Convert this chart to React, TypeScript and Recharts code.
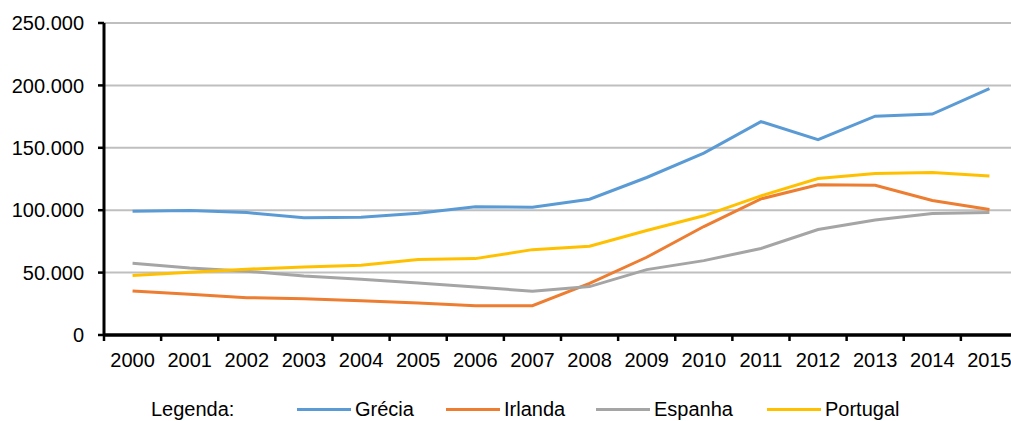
import React from "react";
import { LineChart, Line, XAxis, YAxis, CartesianGrid } from "recharts";

const anos = ["2000", "2001", "2002", "2003", "2004", "2005", "2006", "2007", "2008", "2009", "2010", "2011", "2012", "2013", "2014", "2015"];

const grecia = [99200, 99700, 98100, 93900, 94400, 97600, 102700, 102400, 108800, 126200, 145700, 171000, 156600, 175300, 177000, 197500];
const irlanda = [35300, 32600, 29900, 29100, 27500, 25700, 23500, 23500, 41400, 62300, 86900, 109100, 120300, 120000, 107800, 100500];
const espanha = [57500, 53700, 51100, 47300, 44700, 41700, 38500, 35000, 38800, 52400, 59600, 69300, 84500, 92200, 97300, 98100];
const portugal = [47600, 50300, 52700, 54500, 55900, 60400, 61200, 68400, 71100, 83700, 95500, 111500, 125400, 129400, 130200, 127500];

const yTicks = [0, 50000, 100000, 150000, 200000, 250000];

const series = [
  { key: "grecia", nome: "Grécia", cor: "#5B9BD5", valores: grecia },
  { key: "irlanda", nome: "Irlanda", cor: "#ED7D31", valores: irlanda },
  { key: "espanha", nome: "Espanha", cor: "#A5A5A5", valores: espanha },
  { key: "portugal", nome: "Portugal", cor: "#FFC000", valores: portugal },
];

const dados = anos.map((ano, i) => {
  const row: Record<string, string | number> = { ano };
  series.forEach((s) => (row[s.key] = s.valores[i]));
  return row;
});

const CHART_W = 1030;
const CHART_H = 421;
const MARGIN = { top: 23, right: 12, bottom: 40, left: 0 };
const Y_W = 104;
const BAND = (CHART_W - MARGIN.left - MARGIN.right - Y_W) / anos.length;

const FONT = "'Liberation Sans', Arial, sans-serif";

// pontos de milhar com ponto: 250000 -> 250.000
const fmt = (v: number) => String(v).replace(/\B(?=(\d{3})+(?!\d))/g, ".");

// rótulo no centro da categoria, traço na fronteira entre categorias
function AnoTick(props: any) {
  const { x, y, payload, index } = props;
  const last = index === anos.length - 1;
  return (
    <g>
      <line x1={x - BAND / 2} x2={x - BAND / 2} y1={y} y2={y + 6} stroke="#000" strokeWidth={2.5} />
      {last && <line x1={x + BAND / 2} x2={x + BAND / 2} y1={y} y2={y + 6} stroke="#000" strokeWidth={2.5} />}
      <text x={x} y={y + 32} textAnchor="middle" fontSize={20} fontFamily={FONT} fill="#000">
        {payload.value}
      </text>
    </g>
  );
}

const legendaX = [297, 446, 596, 767];

export default function App() {
  return (
    <div style={{ position: "absolute", left: 0, top: 0, width: 1011, height: 421, overflow: "hidden", background: "#fff" }}>
      <LineChart width={CHART_W} height={CHART_H} data={dados} margin={MARGIN}>
        <CartesianGrid vertical={false} stroke="#BFBFBF" strokeWidth={2} />
        <XAxis
          dataKey="ano"
          height={46}
          interval={0}
          padding={{ left: BAND / 2, right: BAND / 2 }}
          tickLine={false}
          tickSize={0}
          tickMargin={0}
          axisLine={{ stroke: "#000", strokeWidth: 3.5 }}
          tick={<AnoTick />}
        />
        <YAxis
          width={Y_W}
          domain={[0, 250000]}
          ticks={yTicks}
          tickFormatter={fmt}
          tickSize={6}
          tickMargin={14}
          axisLine={{ stroke: "#000", strokeWidth: 3 }}
          tickLine={{ stroke: "#000", strokeWidth: 2.5 }}
          tick={{ fill: "#000", fontSize: 20, fontFamily: FONT }}
        />
        {series.map((s) => (
          <Line
            key={s.key}
            type="linear"
            dataKey={s.key}
            name={s.nome}
            stroke={s.cor}
            strokeWidth={3}
            dot={false}
            isAnimationActive={false}
          />
        ))}
      </LineChart>
      <div style={{ position: "absolute", left: 0, top: 397, width: 1011, height: 24, fontFamily: FONT, fontSize: 20, color: "#000" }}>
        <span style={{ position: "absolute", left: 151, top: 0, lineHeight: "24px" }}>Legenda:</span>
        {series.map((s, i) => (
          <div key={s.key} style={{ position: "absolute", left: legendaX[i], top: 0, display: "flex", alignItems: "center", height: 24 }}>
            <span style={{ display: "inline-block", width: 54, height: 3, background: s.cor, marginRight: 4 }} />
            <span style={{ lineHeight: "24px" }}>{s.nome}</span>
          </div>
        ))}
      </div>
    </div>
  );
}
